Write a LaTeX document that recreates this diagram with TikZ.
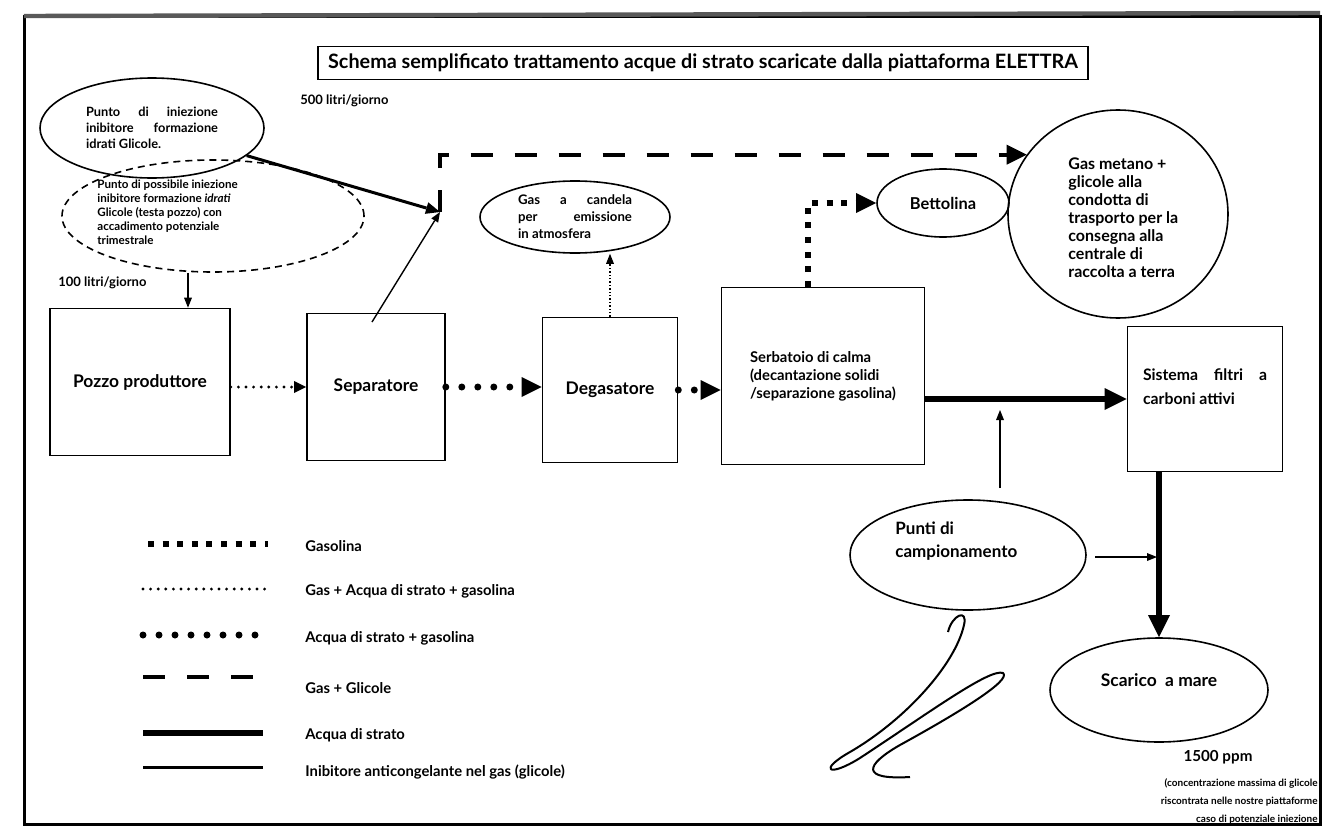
\documentclass[tikz,border=0pt]{standalone}
\usepackage{fontspec}
\setmainfont{Lato}
\usetikzlibrary{arrows.meta,shapes.geometric}
\begin{document}
\bfseries
\begin{tikzpicture}[x=0.5pt,y=-0.5pt,
  box/.style={draw,line width=0.8pt,align=left,inner sep=0pt},
  oval/.style={draw,ellipse,line width=0.8pt,align=left,inner sep=0pt},
  txt/.style={inner sep=0pt,align=left},
  boxfont/.style={font=\fontsize{8.7}{10}\selectfont},
  lgfont/.style={font=\fontsize{7.4}{9}\selectfont},
  gasolina/.style={line width=3pt,dash pattern=on 3pt off 4.3pt},
  gasacq/.style={line width=1.6pt,line cap=round,dash pattern=on 0pt off 3.8pt},
  acqgas/.style={line width=3.5pt,line cap=round,dash pattern=on 0pt off 8pt},
  gasgli/.style={line width=2pt,dash pattern=on 11pt off 11pt},
  acqua/.style={line width=3.2pt},
  inibit/.style={line width=1.5pt},
  thinline/.style={line width=0.7pt},
  bigtip/.style={-{Triangle[length=10pt,width=10pt,line width=0pt]}},
  midtip/.style={-{Triangle[length=7pt,width=6pt,line width=0pt]}},
  smalltip/.style={-{Triangle[length=5pt,width=4pt,line width=0pt]}}
]
\useasboundingbox (0,0) rectangle (1334,835);
% frame
\draw[line width=1.5pt] (24,16) rectangle (1320,824);
\draw[line width=2.2pt,black!65] (24,16) -- (1320,13);

% title
\node[box,minimum width=385pt,minimum height=16.5pt,font=\fontsize{9.9}{11}\selectfont] (title) at (703,63) {Schema semplificato trattamento acque di strato scaricate dalla piattaforma ELETTRA};

% process boxes
\node[box,boxfont,minimum width=90pt,minimum height=73.5pt] (pozzo) at (140,382) {Pozzo produttore};
\node[box,boxfont,minimum width=69pt,minimum height=73.5pt] (sep) at (376,387) {Separatore};
\node[box,boxfont,minimum width=67.5pt,minimum height=72.5pt] (degas) at (610,390) {Degasatore};
\node[box,font=\fontsize{7.4}{9}\selectfont,minimum width=101.5pt,minimum height=88.5pt] (serb) at (823,376) {Serbatoio di calma\\(decantazione solidi\\/separazione gasolina)};
\node[box,font=\fontsize{7.9}{12}\selectfont,minimum width=77.5pt,minimum height=72.5pt] (filtri) at (1205,399) {\makebox[62pt][s]{Sistema filtri a}\\carboni attivi\\ \mbox{}};

% ovals
\node[oval,minimum width=112pt,minimum height=50pt,font=\fontsize{6.4}{8}\selectfont] (inj1) at (152,128) {\makebox[66pt][s]{Punto di iniezione}\\\makebox[66pt][s]{inibitore formazione}\\idrati Glicole.};
\node[oval,dash pattern=on 3.5pt off 2.5pt,minimum width=151pt,minimum height=56pt] (inj2) at (213,216) {};
\node[txt,anchor=west,font=\fontsize{5.8}{7}\selectfont] (inj2t) at (97,212) {Punto di possibile iniezione\\inibitore formazione \textit{idrati}\\Glicole (testa pozzo) con\\accadimento potenziale\\trimestrale};
\node[oval,minimum width=95pt,minimum height=36pt,font=\fontsize{6.6}{8.5}\selectfont] (cand) at (575,217) {\makebox[57pt][s]{Gas a candela}\\\makebox[57pt][s]{per emissione}\\in atmosfera};
\node[oval,minimum width=66pt,minimum height=34pt,font=\fontsize{8.2}{10}\selectfont] (bett) at (943,203) {Bettolina};
\node[oval,minimum width=110pt,minimum height=104pt] (gm) at (1118,214) {};
\node[txt,anchor=west,font=\fontsize{8}{9}\selectfont] (gmt) at (1068,218) {Gas metano +\\glicole alla\\condotta di\\trasporto per la\\consegna alla\\centrale di\\raccolta a terra};
\node[oval,minimum width=118pt,minimum height=55pt] (punti) at (968,555) {};
\node[txt,anchor=west,font=\fontsize{8.5}{11.5}\selectfont] (puntit) at (895,541) {Punti di\\campionamento};
\node[oval,boxfont,minimum width=109pt,minimum height=52pt] (scar) at (1159,690) {Scarico\ \ a mare\\ \mbox{}};

% labels
\node[txt,anchor=west,font=\fontsize{6.5}{8}\selectfont] (l500) at (300,101) {500 litri/giorno};
\node[txt,anchor=west,font=\fontsize{6.5}{8}\selectfont] (l100) at (58,283) {100 litri/giorno};
\node[txt,font=\fontsize{7.6}{9}\selectfont] (ppm) at (1218,757) {1500 ppm};
\node[txt,anchor=east,align=right,font=\fontsize{5}{9}\selectfont] (notes) at (1318,801) {(concentrazione massima di glicole\\riscontrata nelle nostre piattaforme\\caso di potenziale iniezione};

% connectors
\coordinate (injpt) at (440,212);
\coordinate (sepin) at (372,322);
\draw[inibit,midtip] (inj1) -- (injpt);
\draw[thinline,smalltip] (sepin) -- (injpt);
\draw[gasgli,bigtip] (injpt) |- (gm.147);
\draw[line width=1pt,smalltip] ([xshift=-12.5pt]inj2.south) -- ([xshift=-12.5pt]inj2.south |- pozzo.north);
\draw[gasacq,-{Triangle[length=6pt,width=6pt,line width=0pt]}] (pozzo.east |- sep.west) -- (sep.west);
\draw[acqgas,bigtip] (sep.east) -- (sep.east -| degas.west);
\draw[acqgas,bigtip] (degas.east) -- (degas.east -| serb.west);
\draw[thinline,densely dotted,smalltip] (degas.north) -- (degas.north |- cand.south);
\draw[gasolina,bigtip] ([xshift=-7.5pt]serb.north) |- (bett.west);
\draw[acqua,-{Triangle[length=11pt,width=11pt,line width=0pt]}] (serb.east |- filtri.west) -- (filtri.west);
\draw[acqua,-{Triangle[length=11pt,width=11pt,line width=0pt]}] (scar.north |- filtri.south) -- (scar.north);
\coordinate (s1a) at (1000,488);
\coordinate (s1b) at (1000,410);
\coordinate (s2a) at (1095,557);
\coordinate (s2b) at (1157,557);
\draw[thinline,smalltip] (s1a) -- (s1b);
\draw[thinline,smalltip] (s2a) -- (s2b);

% signature
\draw[line width=1pt,line join=round] (948,632) .. controls (952,615) and (968,608) .. (964,625)
  .. controls (955,665) and (905,720) .. (850,752)
  .. controls (818,770) and (828,778) .. (860,758)
  .. controls (930,712) and (990,668) .. (1003,673)
  .. controls (1012,680) and (960,712) .. (900,745)
  .. controls (865,765) and (860,780) .. (910,777);

% legend
\coordinate (g1a) at (148,544); \coordinate (g1b) at (268,544);
\coordinate (g2a) at (143,589); \coordinate (g2b) at (265,589);
\coordinate (g3a) at (143,635); \coordinate (g3b) at (260,635);
\coordinate (g4a) at (143,677); \coordinate (g4b) at (262,677);
\coordinate (g5a) at (143,733); \coordinate (g5b) at (263,733);
\coordinate (g6a) at (143,767); \coordinate (g6b) at (263,767);
\draw[gasolina] (g1a) -- (g1b);
\draw[gasacq] (g2a) -- (g2b);
\draw[acqgas] (g3a) -- (g3b);
\draw[gasgli] (g4a) -- (g4b);
\draw[acqua] (g5a) -- (g5b);
\draw[inibit] (g6a) -- (g6b);
\node[txt,lgfont,anchor=west] (t1) at (305,546) {Gasolina};
\node[txt,lgfont,anchor=west] (t2) at (305,591) {Gas + Acqua di strato + gasolina};
\node[txt,lgfont,anchor=west] (t3) at (305,638) {Acqua di strato + gasolina};
\node[txt,lgfont,anchor=west] (t4) at (305,688) {Gas + Glicole};
\node[txt,lgfont,anchor=west] (t5) at (305,735) {Acqua di strato};
\node[txt,lgfont,anchor=west] (t6) at (305,772) {Inibitore anticongelante nel gas (glicole)};
\end{tikzpicture}
\end{document}
